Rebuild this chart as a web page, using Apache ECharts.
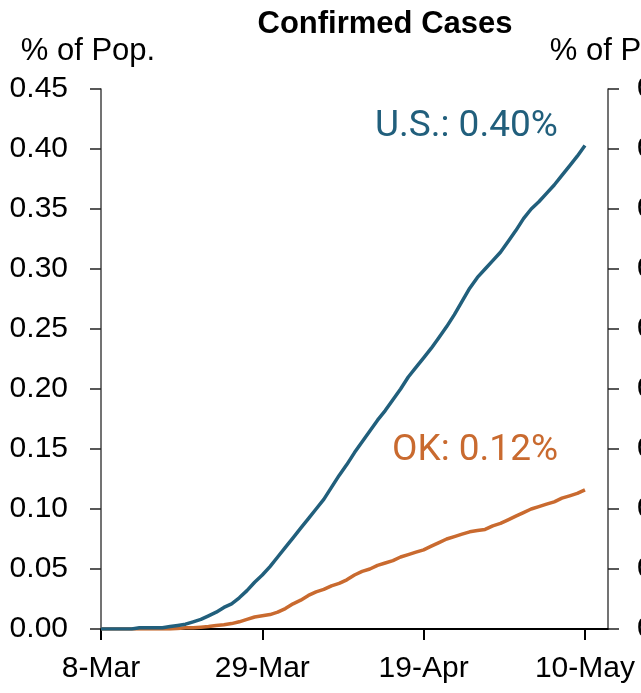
<!DOCTYPE html>
<html>
<head>
<meta charset="utf-8">
<script src="https://cdn.jsdelivr.net/npm/echarts@6/dist/echarts.min.js"></script>
<style>
  html, body { margin: 0; padding: 0; background: #fff; }
  #chart { width: 641px; height: 693px; }
</style>
</head>
<body>
<div id="chart"></div>
<script>
// days since 8-Mar, one point per day
const usPct = [
  0.000, 0.000, 0.000, 0.000, 0.000, 0.001, 0.001, 0.001, 0.001, 0.002,
  0.003, 0.004, 0.006, 0.008, 0.011, 0.014, 0.018, 0.021, 0.026, 0.032,
  0.039, 0.045, 0.052, 0.060, 0.068, 0.076, 0.084, 0.092, 0.100, 0.108,
  0.118, 0.128, 0.137, 0.147, 0.156, 0.165, 0.174, 0.182, 0.191, 0.200,
  0.210, 0.218, 0.226, 0.234, 0.243, 0.252, 0.262, 0.273, 0.284, 0.293,
  0.300, 0.307, 0.314, 0.323, 0.332, 0.342, 0.350, 0.356, 0.363, 0.370,
  0.378, 0.386, 0.394, 0.403
];
const okPct = [
  0.000, 0.000, 0.000, 0.000, 0.000, 0.000, 0.000, 0.000, 0.000, 0.000,
  0.0005, 0.001, 0.001, 0.0015, 0.002, 0.003, 0.0035, 0.0045, 0.006, 0.008,
  0.010, 0.011, 0.012, 0.014, 0.017, 0.021, 0.024, 0.028, 0.031, 0.033,
  0.036, 0.038, 0.041, 0.045, 0.048, 0.050, 0.053, 0.055, 0.057, 0.060,
  0.062, 0.064, 0.066, 0.069, 0.072, 0.075, 0.077, 0.079, 0.081, 0.082,
  0.083, 0.086, 0.088, 0.091, 0.094, 0.097, 0.100, 0.102, 0.104, 0.106,
  0.109, 0.111, 0.113, 0.116
];
const tickDays = [0, 21, 42, 63];
const tickLabels = ['8-Mar', '29-Mar', '19-Apr', '10-May'];

const narrow = '"Liberation Sans Narrow", "Arial Narrow", "Liberation Sans", Arial, sans-serif';
const usColor = '#215f7c';
const okColor = '#c96a2f';

const toPairs = arr => arr.map((v, i) => [i, v]);

const chart = echarts.init(document.getElementById('chart'), null, { renderer: 'canvas' });

const yCommon = {
  type: 'value',
  min: 0,
  max: 0.45,
  interval: 0.05,
  splitLine: { show: false },
  axisLine: { show: true, lineStyle: { color: '#444', width: 1.5 } },
  axisTick: { show: true, length: 11, lineStyle: { color: '#222', width: 1.5 } },
  nameLocation: 'end',
  nameGap: 22,
};

chart.setOption({
  animation: false,
  title: {
    text: 'Confirmed Cases',
    left: 380,
    textAlign: 'center',
    top: 4,
    textStyle: { fontFamily: narrow, fontWeight: 'bold', fontSize: 31, color: '#000' },
  },
  grid: { left: 101, right: 33, top: 89, bottom: 64, outerBoundsMode: 'none', containLabel: false },
  xAxis: {
    type: 'value',
    min: 0,
    max: 66,
    splitLine: { show: false },
    axisLine: { lineStyle: { color: '#000', width: 2 } },
    axisTick: {
      show: true,
      inside: false,
      length: 11,
      customValues: tickDays,
      lineStyle: { color: '#000', width: 2 },
    },
    axisLabel: {
      customValues: tickDays,
      margin: 25,
      fontFamily: narrow,
      fontSize: 30,
      color: '#000',
      formatter: v => tickLabels[tickDays.indexOf(v)],
    },
  },
  yAxis: [
    Object.assign({}, yCommon, {
      position: 'left',
      name: '% of Pop.',
      nameTextStyle: { fontFamily: narrow, fontSize: 31, color: '#000', align: 'center', padding: [0, 26, 0, 0] },
      axisLabel: { margin: 33, fontFamily: narrow, fontSize: 30, color: '#000', formatter: v => v.toFixed(2) },
    }),
    Object.assign({}, yCommon, {
      position: 'right',
      name: '% of Pop.',
      nameTextStyle: { fontFamily: narrow, fontSize: 31, color: '#000', align: 'center', padding: [0, 0, 0, 18] },
      axisLabel: { margin: 29, fontFamily: narrow, fontSize: 30, color: '#000', formatter: v => v.toFixed(2) },
    }),
  ],
  graphic: [
    {
      type: 'text',
      left: 375,
      top: 108,
      style: { text: 'U.S.: 0.40%', fontFamily: 'Roboto, sans-serif', fontSize: 37, fill: usColor },
    },
    {
      type: 'text',
      left: 392,
      top: 432,
      style: { text: 'OK: 0.12%', fontFamily: 'Roboto, sans-serif', fontSize: 37, fill: okColor },
    },
  ],
  series: [
    {
      name: 'U.S.',
      type: 'line',
      data: toPairs(usPct),
      showSymbol: false,
      lineStyle: { color: usColor, width: 3.5 },
      itemStyle: { color: usColor },
      z: 3,
    },
    {
      name: 'OK',
      type: 'line',
      data: toPairs(okPct),
      showSymbol: false,
      lineStyle: { color: okColor, width: 3.5 },
      itemStyle: { color: okColor },
      z: 2,
    },
  ],
});
</script>
</body>
</html>
